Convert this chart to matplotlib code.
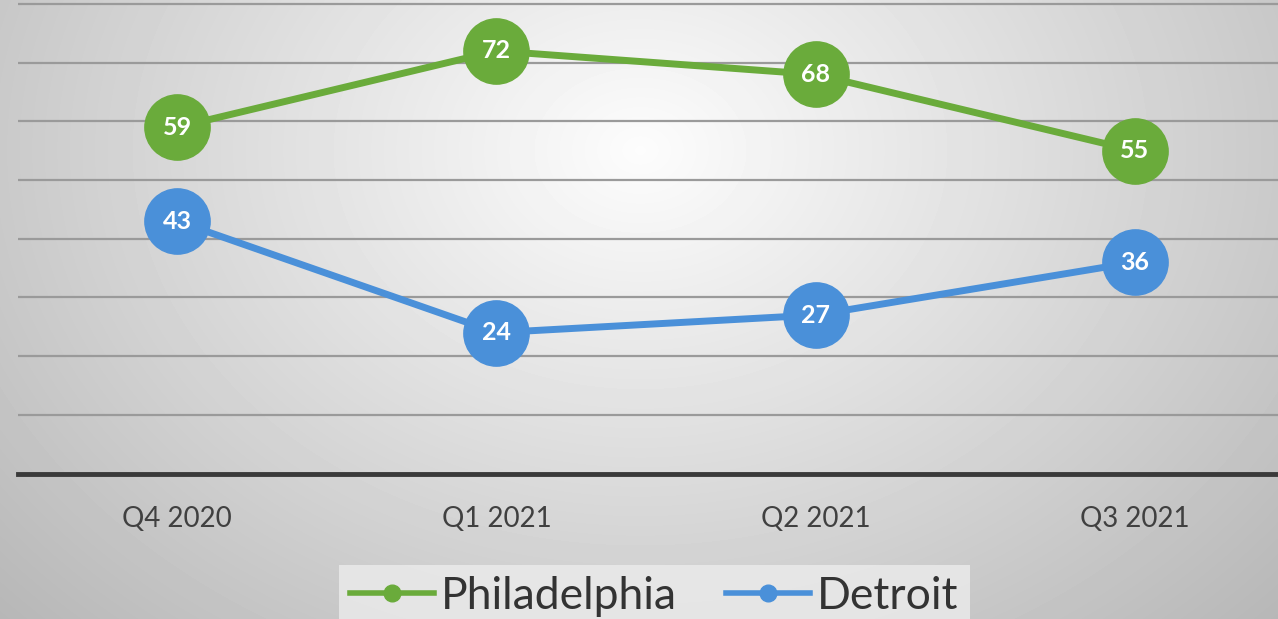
import numpy as np
import matplotlib.pyplot as plt
from matplotlib.lines import Line2D

# dados do gráfico
trimestres = ['Q4 2020', 'Q1 2021', 'Q2 2021', 'Q3 2021']
philadelphia = [59, 72, 68, 55]
detroit = [43, 24, 27, 36]

verde = '#6aab3b'
azul = '#4a90d9'

plt.rcParams['font.family'] = ['Lato', 'DejaVu Sans']

fig = plt.figure(figsize=(12.78, 6.19), dpi=100)

# fundo com gradiente radial
fundo = fig.add_axes([0, 0, 1, 1], zorder=0)
yy, xx = np.mgrid[0:619, 0:1278]
d = np.sqrt(((xx - 640) / 900.0) ** 2 + ((yy - 150) / 700.0) ** 2)
g = np.clip(0.99 - 0.28 * d, 0, 1)
fundo.imshow(g, cmap='gray', vmin=0, vmax=1, aspect='auto', extent=[0, 1, 0, 1])
fundo.axis('off')

ax = fig.add_axes([17.5 / 1278, (619 - 473.5) / 619, 1277 / 1278, 471.5 / 619], zorder=1)
ax.patch.set_alpha(0)
x = np.arange(len(trimestres))

ax.plot(x, philadelphia, color=verde, lw=5, marker='o', ms=47, zorder=3,
        solid_capstyle='round')
ax.plot(x, detroit, color=azul, lw=5, marker='o', ms=47, zorder=3,
        solid_capstyle='round')

for xi, v in zip(x, philadelphia):
    ax.text(xi, v, str(v), ha='center', va='center', color='white',
            fontsize=18, fontweight='bold', zorder=4)
for xi, v in zip(x, detroit):
    ax.text(xi, v, str(v), ha='center', va='center', color='white',
            fontsize=18, fontweight='bold', zorder=4)

ax.set_xlim(-0.5, 3.5)
ax.set_ylim(0, 80.34)
ax.set_yticks(np.arange(10, 81, 10))
ax.yaxis.grid(True, color='#9a9a9a', lw=1.6)
ax.set_axisbelow(True)
ax.tick_params(left=False, labelleft=False, bottom=False)
for s in ['top', 'right', 'left']:
    ax.spines[s].set_visible(False)
ax.spines['bottom'].set_color('#3a3a3a')
ax.spines['bottom'].set_linewidth(3.5)
ax.set_xticks(x)
ax.set_xticklabels(trimestres, fontsize=20, color='#404040')
ax.tick_params(axis='x', pad=20)

handles = [Line2D([], [], color=verde, lw=4, marker='o', ms=12),
           Line2D([], [], color=azul, lw=4, marker='o', ms=12)]
leg = fig.legend(handles, ['Philadelphia', 'Detroit'], loc='lower center',
                 bbox_to_anchor=(0.512, -0.05), ncol=2, fontsize=32,
                 frameon=True, fancybox=False, handlelength=1.9,
                 handletextpad=0.15, columnspacing=1.1, borderpad=0.25)
leg.get_frame().set_facecolor('#ececec')
leg.get_frame().set_edgecolor('none')
leg.get_frame().set_alpha(0.8)
for t in leg.get_texts():
    t.set_color('#333333')

fig.savefig('out.png', dpi=100)
